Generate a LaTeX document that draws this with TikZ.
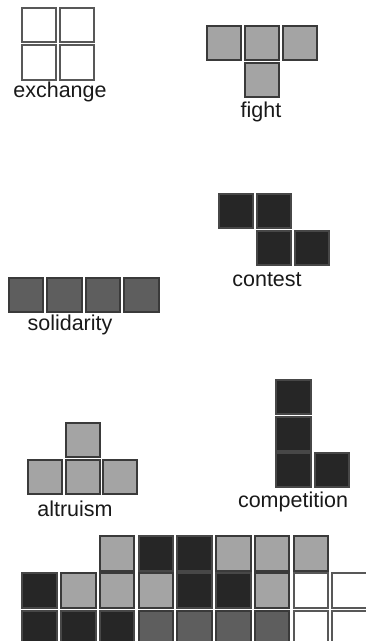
\documentclass[tikz,border=0pt]{standalone}
\usepackage{fontspec}
\setmainfont{Liberation Sans}
\definecolor{cLight}{HTML}{A4A4A4}
\definecolor{cDark}{HTML}{5E5E5E}
\definecolor{cBlack}{HTML}{262626}
\definecolor{cEdge}{HTML}{3A3A3A}
\begin{document}
\begin{tikzpicture}[x=1pt,y=-1pt,
  cell/.style={rectangle,minimum size=34.5pt,inner sep=0pt,line width=2pt,draw=cEdge},
  wcell/.style={cell,fill=white,draw=cEdge!85},
  lcell/.style={cell,fill=cLight},
  dcell/.style={cell,fill=cDark},
  bcell/.style={cell,fill=cBlack,draw=cBlack!85!white},
  lab/.style={font=\fontsize{21.5}{25}\selectfont,text=black!90,inner sep=0pt}]
\clip (0,0) rectangle (366,641);
\fill[white] (0,0) rectangle (366,641);
% exchange
\node[wcell] (e1) at (39,25) {};
\node[wcell] (e2) at (77,25) {};
\node[wcell] (e3) at (39,62.5) {};
\node[wcell] (e4) at (77,62.5) {};
\node[lab] (le) at (60,92) {exchange};
% fight
\node[lcell] (f1) at (224,43) {};
\node[lcell] (f2) at (262,43) {};
\node[lcell] (f3) at (300,43) {};
\node[lcell] (f4) at (262,80) {};
\node[lab] (lf) at (261,112) {fight};
% contest
\node[bcell] (c1) at (236,211) {};
\node[bcell] (c2) at (274,211) {};
\node[bcell] (c3) at (274,248) {};
\node[bcell] (c4) at (312,248) {};
\node[lab] (lc) at (267,280) {contest};
% solidarity
\node[dcell] (s1) at (26,295) {};
\node[dcell] (s2) at (64.5,295) {};
\node[dcell] (s3) at (103,295) {};
\node[dcell] (s4) at (141.5,295) {};
\node[lab] (ls) at (70,325) {solidarity};
% altruism
\node[lcell] (a1) at (83,440) {};
\node[lcell] (a2) at (45,477) {};
\node[lcell] (a3) at (83,477) {};
\node[lcell] (a4) at (120,477) {};
\node[lab] (la) at (75,509) {altruism};
% competition
\node[bcell] (p1) at (293.5,397) {};
\node[bcell] (p2) at (293.5,434) {};
\node[bcell] (p3) at (293.5,470) {};
\node[bcell] (p4) at (332,470) {};
\node[lab] (lp) at (293,502) {competition};
% bottom wall
\foreach \c/\s in {3/lcell,4/bcell,5/bcell,6/lcell,7/lcell,8/lcell}
  \node[\s] (ga\c) at ({39.7+38.75*(\c-1)},553.5) {};
\foreach \c/\s in {1/bcell,2/lcell,3/lcell,4/lcell,5/bcell,6/bcell,7/lcell,8/wcell,9/wcell}
  \node[\s] (gb\c) at ({39.7+38.75*(\c-1)},590.5) {};
\foreach \c/\s in {1/bcell,2/bcell,3/bcell,4/dcell,5/dcell,6/dcell,7/dcell,8/wcell,9/wcell}
  \node[\s] (gc\c) at ({39.7+38.75*(\c-1)},628) {};
\end{tikzpicture}
\end{document}
